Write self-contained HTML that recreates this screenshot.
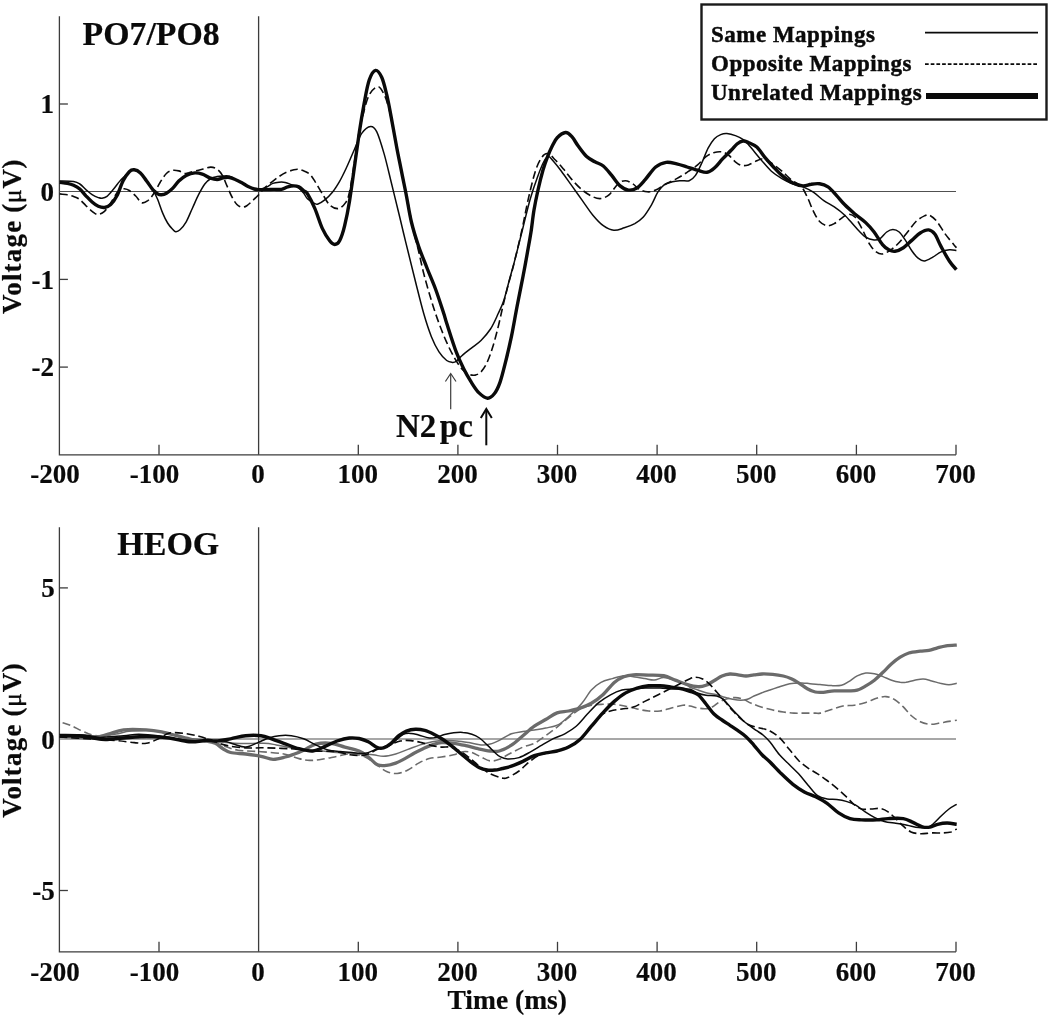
<!DOCTYPE html>
<html lang="en"><head><meta charset="utf-8"><title>ERP waveforms</title>
<style>html,body{margin:0;padding:0;background:#fff}body{width:1050px;height:1019px;overflow:hidden}svg{display:block}text{font-family:"Liberation Serif","DejaVu Serif",serif;font-weight:bold;fill:#0a0a0a;stroke:#0a0a0a;stroke-width:.2px}.lg{stroke-width:.45px}</style></head><body>
<svg width="1050" height="1019" viewBox="0 0 1050 1019">
<rect width="1050" height="1019" fill="#fff"/>
<g stroke="#3c3c3c" stroke-width="1.3" fill="none" shape-rendering="auto">
<path d="M59.4 16.2V454.8H956.0"/>
<path d="M258.6 16.2V454.8"/>
<path d="M59.4 191.55H956.0" stroke="#505050" stroke-width="1.05"/>
<path d="M159.0 454.8v-10"/>
<path d="M358.3 454.8v-10"/>
<path d="M457.9 454.8v-10"/>
<path d="M557.5 454.8v-10"/>
<path d="M657.1 454.8v-10"/>
<path d="M756.7 454.8v-10"/>
<path d="M856.4 454.8v-10"/>
<path d="M956.0 454.8v-10"/>
<path d="M59.4 104.0h8.5"/>
<path d="M59.4 279.4h8.5"/>
<path d="M59.4 367.1h8.5"/>
</g>
<g stroke="#3c3c3c" stroke-width="1.3" fill="none" shape-rendering="auto">
<path d="M59.4 527.2V951.8H956.0"/>
<path d="M258.6 527.2V951.8"/>
<path d="M59.4 739.05H956.0" stroke="#505050" stroke-width="1.05"/>
<path d="M159.0 951.8v-10"/>
<path d="M358.3 951.8v-10"/>
<path d="M457.9 951.8v-10"/>
<path d="M557.5 951.8v-10"/>
<path d="M657.1 951.8v-10"/>
<path d="M756.7 951.8v-10"/>
<path d="M856.4 951.8v-10"/>
<path d="M956.0 951.8v-10"/>
<path d="M59.4 587.9h8.5"/>
<path d="M59.4 890.5h8.5"/>
</g>
<text x="54.9" y="483.2" font-size="27" text-anchor="middle">-200</text>
<text x="154.5" y="483.2" font-size="27" text-anchor="middle">-100</text>
<text x="258.1" y="483.2" font-size="27" text-anchor="middle">0</text>
<text x="357.8" y="483.2" font-size="27" text-anchor="middle">100</text>
<text x="457.4" y="483.2" font-size="27" text-anchor="middle">200</text>
<text x="557.0" y="483.2" font-size="27" text-anchor="middle">300</text>
<text x="656.6" y="483.2" font-size="27" text-anchor="middle">400</text>
<text x="756.2" y="483.2" font-size="27" text-anchor="middle">500</text>
<text x="855.9" y="483.2" font-size="27" text-anchor="middle">600</text>
<text x="955.5" y="483.2" font-size="27" text-anchor="middle">700</text>
<text x="54.9" y="980.8" font-size="27" text-anchor="middle">-200</text>
<text x="154.5" y="980.8" font-size="27" text-anchor="middle">-100</text>
<text x="258.1" y="980.8" font-size="27" text-anchor="middle">0</text>
<text x="357.8" y="980.8" font-size="27" text-anchor="middle">100</text>
<text x="457.4" y="980.8" font-size="27" text-anchor="middle">200</text>
<text x="557.0" y="980.8" font-size="27" text-anchor="middle">300</text>
<text x="656.6" y="980.8" font-size="27" text-anchor="middle">400</text>
<text x="756.2" y="980.8" font-size="27" text-anchor="middle">500</text>
<text x="855.9" y="980.8" font-size="27" text-anchor="middle">600</text>
<text x="955.5" y="980.8" font-size="27" text-anchor="middle">700</text>
<text x="54" y="113.3" font-size="27" text-anchor="end">1</text>
<text x="54" y="201.0" font-size="27" text-anchor="end">0</text>
<text x="54" y="288.7" font-size="27" text-anchor="end">-1</text>
<text x="54" y="376.4" font-size="27" text-anchor="end">-2</text>
<text x="54.8" y="597.2" font-size="27" text-anchor="end">5</text>
<text x="54.8" y="748.5" font-size="27" text-anchor="end">0</text>
<text x="54.8" y="899.8" font-size="27" text-anchor="end">-5</text>
<text x="82.6" y="45" font-size="33.8">PO7/PO8</text>
<text x="117.3" y="555" font-size="34">HEOG</text>
<text y="436.7" font-size="33"><tspan x="396">N2</tspan><tspan x="439.8">pc</tspan></text>
<text x="447.5" y="1009.3" font-size="27.5">Time (ms)</text>
<text transform="translate(20.8,314) rotate(-90)" font-size="27"><tspan x="0" letter-spacing="1.2">Voltage</tspan><tspan x="101.2">(</tspan><tspan x="110.8" font-weight="normal" font-size="26" stroke="#0a0a0a" stroke-width="0.45">μ</tspan><tspan x="125.5">V</tspan><tspan x="145.6">)</tspan></text>
<text transform="translate(20.8,817.8) rotate(-90)" font-size="27"><tspan x="0" letter-spacing="1.2">Voltage</tspan><tspan x="101.2">(</tspan><tspan x="110.8" font-weight="normal" font-size="26" stroke="#0a0a0a" stroke-width="0.45">μ</tspan><tspan x="125.5">V</tspan><tspan x="145.6">)</tspan></text>
<g fill="none" stroke="#3c3c3c" stroke-width="1.2"><path d="M450.7 409.3V374"/><path d="M445.4 381.5L450.7 373.5L456 381.5"/></g>
<g fill="none" stroke="#0a0a0a" stroke-width="2"><path d="M486.3 445.3V409.5"/><path d="M480.8 418L486.3 409L491.8 418"/></g>
<rect x="701.5" y="4.5" width="345" height="115" fill="#fff" stroke="#1a1a1a" stroke-width="2.4"/>
<text class="lg" x="711" y="41.8" font-size="23" letter-spacing="0.5">Same Mappings</text>
<text class="lg" x="711" y="71" font-size="23" letter-spacing="0.5">Opposite Mappings</text>
<text class="lg" x="711" y="100.4" font-size="23" letter-spacing="0.5">Unrelated Mappings</text>
<g stroke="#0a0a0a" fill="none"><path d="M925 32.6H1038" stroke-width="1.6"/><path d="M925 64.1H1038" stroke-width="1.7" stroke-dasharray="3.7 2"/><path d="M926 96H1038" stroke-width="6"/></g>
<g>
<path d="M59.7 181.0C62.0 181.1 70.2 181.1 73.6 181.6C76.9 182.1 77.8 182.7 79.8 184.0C81.8 185.3 83.9 187.8 85.9 189.6C88.0 191.4 90.0 193.3 92.1 194.6C94.2 195.9 96.6 197.0 98.3 197.6C100.0 198.2 100.5 198.5 102.0 198.3C103.5 198.1 105.1 197.9 107.0 196.4C108.9 194.9 111.1 192.1 113.2 189.6C115.3 187.1 117.6 183.8 119.4 181.6C121.2 179.4 122.6 178.2 124.3 176.6C126.0 174.9 127.7 172.8 129.3 171.7C131.0 170.6 132.3 169.6 134.2 169.8C136.0 170.0 138.3 171.0 140.4 172.9C142.5 174.8 144.5 178.2 146.6 181.0C148.7 183.8 151.0 186.5 152.8 189.6C154.7 192.7 156.0 195.6 157.7 199.5C159.3 203.4 161.0 209.2 162.7 213.1C164.3 217.0 165.9 220.3 167.6 223.0C169.2 225.7 171.2 227.8 172.6 229.2C173.9 230.6 174.5 231.6 175.7 231.7C176.9 231.8 178.2 231.5 180.0 229.8C181.8 228.2 184.1 225.4 186.2 221.8C188.3 218.2 190.3 212.7 192.4 208.2C194.5 203.7 196.5 198.6 198.6 194.6C200.7 190.6 202.8 186.7 204.8 184.0C206.9 181.3 208.9 179.7 210.9 178.5C212.9 177.3 215.0 177.0 217.1 176.6C219.2 176.2 221.2 176.1 223.3 176.0C225.4 175.9 227.4 175.6 229.5 176.2C231.6 176.8 233.6 178.6 235.7 179.7C237.8 180.8 239.8 181.7 241.9 182.8C244.0 183.9 246.0 185.5 248.1 186.5C250.2 187.5 252.6 188.5 254.3 189.0C256.0 189.5 256.1 189.9 258.2 189.6C260.2 189.3 264.2 188.1 266.6 187.1C269.0 186.1 270.7 184.2 272.8 183.4C274.9 182.6 276.9 182.4 279.0 182.2C281.1 182.0 283.1 182.0 285.2 182.4C287.3 182.8 289.3 183.9 291.4 184.7C293.5 185.5 295.5 185.7 297.6 187.1C299.7 188.5 302.2 191.4 303.8 193.3C305.4 195.2 305.5 197.0 307.4 198.7C309.2 200.4 313.1 202.7 314.9 203.6C316.7 204.5 316.4 204.6 318.0 204.0C319.6 203.4 322.4 201.8 324.8 199.9C327.2 198.0 329.7 195.6 332.2 192.5C334.7 189.4 337.1 185.6 339.6 181.3C342.1 177.0 344.5 171.8 347.0 166.5C349.5 161.2 352.0 154.8 354.5 149.2C357.0 143.6 359.2 136.9 361.9 133.1C364.6 129.3 368.1 126.6 370.6 126.4C373.1 126.2 374.5 127.2 376.8 131.8C379.1 136.4 381.7 145.4 384.2 154.1C386.7 162.8 389.1 173.7 391.6 183.8C394.1 193.9 397.0 206.0 399.1 214.5C401.2 223.0 402.4 228.4 404.0 235.0C405.6 241.6 406.6 245.6 408.6 253.8C410.6 262.1 413.7 274.5 416.2 284.5C418.7 294.5 421.3 305.1 423.8 313.8C426.3 322.5 428.9 330.4 431.4 336.7C433.9 343.0 436.4 347.9 439.0 351.9C441.6 355.9 444.5 358.8 446.7 360.5C448.9 362.2 450.8 362.2 452.4 362.4C454.0 362.5 454.6 362.5 456.2 361.4C457.8 360.3 459.4 357.9 461.9 355.7C464.4 353.5 468.2 350.6 471.4 348.1C474.6 345.6 477.8 343.7 481.0 340.5C484.2 337.3 487.6 333.4 490.5 329.0C493.4 324.6 495.9 318.6 498.1 313.8C500.3 309.1 501.9 306.2 503.8 300.5C505.7 294.8 507.6 286.5 509.5 279.5C511.4 272.5 513.0 267.2 515.2 258.6C517.4 250.0 520.4 238.0 522.9 228.0C525.4 218.0 527.8 207.3 530.3 198.7C532.8 190.1 535.4 182.6 537.7 176.4C540.0 170.2 542.1 164.8 543.9 161.5C545.7 158.2 547.0 156.7 548.5 156.6C550.0 156.5 550.9 158.4 553.0 160.8C555.1 163.2 558.2 167.0 561.4 171.2C564.5 175.4 568.4 181.0 571.9 185.9C575.4 190.8 578.9 195.7 582.4 200.6C585.9 205.5 589.4 211.0 592.9 215.2C596.4 219.4 599.8 223.2 603.3 225.7C606.8 228.2 610.3 230.0 613.8 230.3C617.3 230.7 620.8 228.9 624.3 227.8C627.8 226.7 631.7 225.3 634.8 223.6C637.9 221.8 640.3 220.4 643.1 217.3C645.9 214.2 649.0 209.0 651.5 204.8C654.0 200.6 655.7 195.5 657.8 192.2C659.9 188.9 661.6 186.7 664.1 184.9C666.6 183.2 669.7 182.4 672.5 181.7C675.3 181.0 678.1 180.9 680.9 180.7C683.7 180.5 686.8 181.6 689.2 180.7C691.6 179.8 693.4 178.4 695.5 175.4C697.6 172.4 699.7 167.4 701.8 162.9C703.9 158.4 706.0 152.2 708.1 148.2C710.2 144.2 712.3 141.1 714.4 138.8C716.5 136.5 718.6 135.5 720.7 134.6C722.8 133.7 724.5 133.3 726.9 133.5C729.3 133.7 732.5 134.5 735.3 135.6C738.1 136.7 741.2 137.9 743.7 139.8C746.2 141.7 747.6 143.8 750.5 147.1C753.4 150.4 757.5 155.7 761.0 159.7C764.5 163.7 767.9 168.0 771.4 171.2C774.9 174.3 778.4 176.5 781.9 178.6C785.4 180.7 788.9 182.4 792.4 183.8C795.9 185.2 799.4 185.5 802.9 186.9C806.4 188.3 809.8 189.9 813.3 192.2C816.8 194.5 820.3 198.1 823.8 200.6C827.3 203.1 830.8 204.5 834.3 206.9C837.8 209.3 841.3 211.9 844.8 215.2C848.3 218.5 851.7 223.1 855.2 226.8C858.7 230.5 862.6 235.0 865.7 237.2C868.9 239.4 871.7 239.8 874.1 240.0C876.5 240.2 878.3 239.6 880.4 238.3C882.5 237.0 884.6 233.5 886.7 232.0C888.8 230.5 890.8 229.5 892.9 229.5C895.0 229.5 897.1 230.2 899.2 232.0C901.3 233.8 903.4 237.3 905.5 240.4C907.6 243.5 909.7 247.8 911.8 250.8C913.9 253.8 916.0 256.5 918.1 258.2C920.2 259.9 922.0 261.1 924.4 260.9C926.8 260.7 930.0 258.6 932.8 257.1C935.6 255.6 938.3 253.1 941.1 251.9C943.9 250.7 947.0 250.1 949.5 249.8C952.0 249.6 955.2 250.3 956.4 250.4" fill="none" stroke="#0a0a0a" stroke-width="1.5" stroke-linejoin="round" stroke-linecap="butt"/>
<path d="M59.7 193.9C61.0 194.1 65.1 194.4 67.4 194.8C69.7 195.2 71.5 195.6 73.6 196.4C75.7 197.2 77.8 197.9 79.8 199.5C81.8 201.1 83.9 203.7 85.9 205.7C88.0 207.7 90.1 209.8 92.1 211.3C94.1 212.8 95.6 214.6 97.7 214.6C99.8 214.6 102.3 213.2 104.5 211.3C106.7 209.4 108.6 206.1 110.7 203.0C112.8 199.9 115.2 195.2 116.9 193.0C118.6 190.8 119.8 190.2 121.0 189.5C122.2 188.8 122.9 188.6 124.3 188.8C125.7 189.0 127.4 189.3 129.3 190.5C131.2 191.7 133.6 194.0 135.7 196.0C137.8 198.0 139.6 201.8 141.6 202.6C143.6 203.4 145.7 202.2 147.8 200.7C149.9 199.1 151.9 196.4 154.0 193.3C156.1 190.2 158.1 185.5 160.2 182.2C162.3 178.9 164.3 175.5 166.4 173.5C168.5 171.5 170.5 170.8 172.6 170.4C174.7 170.0 176.7 170.4 178.8 170.9C180.9 171.4 183.3 173.2 185.0 173.5C186.7 173.8 186.4 173.2 188.7 172.7C191.0 172.1 195.9 170.9 198.6 170.2C201.3 169.5 202.8 169.1 204.8 168.6C206.9 168.1 208.9 167.0 210.9 167.1C212.9 167.2 215.2 167.9 217.1 169.2C219.0 170.5 220.4 172.0 222.1 174.8C223.8 177.6 225.3 182.2 227.0 185.9C228.7 189.6 230.3 193.9 232.0 197.0C233.7 200.1 235.2 202.8 236.9 204.5C238.6 206.2 240.2 207.0 241.9 207.2C243.6 207.4 245.2 206.7 246.8 205.7C248.5 204.7 249.9 203.2 251.8 201.4C253.7 199.7 256.1 197.4 258.2 195.2C260.3 193.0 262.0 190.6 264.2 188.4C266.4 186.2 269.1 184.2 271.6 182.2C274.1 180.2 276.5 178.2 279.0 176.6C281.5 174.9 283.9 173.4 286.4 172.3C288.9 171.2 291.8 170.3 293.9 169.8C296.0 169.3 296.9 169.1 298.8 169.4C300.7 169.7 303.1 170.7 305.0 171.5C306.9 172.3 308.4 172.9 310.0 174.5C311.6 176.1 312.8 178.1 314.9 181.3C316.9 184.5 319.8 189.8 322.3 193.7C324.8 197.6 327.0 202.4 329.7 204.9C332.4 207.4 335.7 209.0 338.4 208.6C341.1 208.2 343.9 205.2 345.8 202.4C347.7 199.6 348.1 198.2 349.5 192.0C350.9 185.8 352.5 174.5 354.0 165.0C355.5 155.5 357.0 143.4 358.5 135.0C360.0 126.6 361.3 121.2 363.1 114.5C364.9 107.8 366.8 99.3 369.3 94.7C371.8 90.1 375.5 86.7 378.0 86.7C380.5 86.7 382.3 90.9 384.2 94.7C386.1 98.5 387.7 104.0 389.2 109.5C390.7 115.0 391.5 120.8 393.0 128.0C394.5 135.2 396.3 144.7 398.0 153.0C399.7 161.3 401.3 169.7 403.0 178.0C404.7 186.3 406.3 194.3 408.0 203.0C409.7 211.7 411.6 222.3 413.3 230.0C415.0 237.7 416.4 241.7 418.1 249.0C419.9 256.3 421.6 265.2 423.8 273.8C426.0 282.4 428.9 292.2 431.4 300.5C433.9 308.8 436.4 316.3 439.0 323.3C441.6 330.3 444.1 336.7 446.7 342.4C449.2 348.1 451.8 353.2 454.3 357.6C456.8 362.0 459.4 366.2 461.9 369.0C464.4 371.8 467.3 373.4 469.5 374.4C471.7 375.4 473.3 375.5 475.2 375.1C477.1 374.7 479.1 373.9 481.0 371.9C482.9 369.9 484.8 367.3 486.7 363.3C488.6 359.3 490.5 354.1 492.4 348.1C494.3 342.1 496.4 334.1 498.1 327.1C499.9 320.1 501.3 312.9 502.9 306.2C504.5 299.5 505.9 293.8 507.6 287.1C509.3 280.4 510.9 275.7 513.3 266.2C515.7 256.7 519.5 240.8 521.9 230.0C524.3 219.2 525.6 211.0 527.8 201.2C530.0 191.4 533.0 178.6 535.3 171.4C537.6 164.2 539.5 160.8 541.5 157.8C543.5 154.8 545.3 153.3 547.6 153.6C549.9 153.9 552.5 157.1 555.1 159.7C557.8 162.3 560.7 165.8 563.5 169.1C566.3 172.4 568.8 176.1 571.9 179.6C575.0 183.1 578.9 187.2 582.4 190.1C585.9 193.0 589.8 195.4 592.9 196.8C596.0 198.2 598.4 198.9 601.2 198.5C604.0 198.1 606.8 196.8 609.6 194.3C612.4 191.9 615.4 186.1 618.0 183.8C620.6 181.5 622.8 180.7 625.3 180.7C627.8 180.7 630.4 182.4 632.7 183.8C635.0 185.2 636.5 187.7 638.9 189.0C641.3 190.3 644.5 191.6 647.3 191.8C650.1 192.0 652.6 191.4 655.7 190.1C658.9 188.8 662.7 185.7 666.2 183.8C669.7 181.9 673.2 180.5 676.7 178.6C680.2 176.7 683.6 174.6 687.1 172.3C690.6 170.0 694.5 167.5 697.6 164.9C700.8 162.3 703.2 158.7 706.0 156.6C708.8 154.5 711.6 153.2 714.4 152.4C717.2 151.6 720.4 151.5 722.8 152.0C725.2 152.5 726.9 153.9 729.0 155.5C731.1 157.1 733.2 160.2 735.3 161.8C737.4 163.5 739.4 164.9 741.6 165.4C743.8 165.9 745.9 165.7 748.4 164.9C750.9 164.1 754.5 161.8 756.8 160.8C759.1 159.8 760.3 159.0 762.0 159.0C763.7 159.0 765.6 160.2 767.2 160.8C768.8 161.5 769.0 161.2 771.4 162.9C773.8 164.6 778.4 168.2 781.9 171.2C785.4 174.2 789.2 178.2 792.4 180.7C795.5 183.1 798.4 183.3 800.8 185.9C803.2 188.5 804.9 192.2 807.0 196.4C809.1 200.6 811.2 206.8 813.3 211.0C815.4 215.2 817.3 219.1 819.6 221.5C821.9 223.9 824.5 225.3 826.9 225.7C829.3 226.0 831.7 225.0 834.3 223.6C836.9 222.2 840.3 218.9 842.7 217.3C845.1 215.7 846.8 214.2 848.9 214.2C851.0 214.2 853.1 215.0 855.2 217.3C857.3 219.6 859.0 223.2 861.5 227.8C864.0 232.4 867.4 240.6 869.9 244.6C872.4 248.6 874.1 250.3 876.2 251.9C878.3 253.5 880.0 254.3 882.5 254.0C885.0 253.7 888.1 251.7 890.9 249.8C893.7 247.9 896.4 245.5 899.2 242.5C902.0 239.5 904.8 235.5 907.6 232.0C910.4 228.5 913.2 224.2 916.0 221.5C918.8 218.8 922.1 217.0 924.4 215.9C926.7 214.8 927.5 214.3 929.6 215.2C931.7 216.1 934.3 218.3 936.9 221.5C939.5 224.7 942.5 230.2 945.3 234.1C948.1 237.9 951.9 242.3 953.7 244.6C955.6 246.9 956.0 247.2 956.4 247.7" fill="none" stroke="#0a0a0a" stroke-width="1.6" stroke-linejoin="round" stroke-linecap="butt" stroke-dasharray="8 3.8"/>
<path d="M59.7 182.4C61.0 182.6 65.1 182.9 67.4 183.4C69.7 183.9 71.5 184.4 73.6 185.3C75.7 186.2 77.8 187.2 79.8 189.0C81.8 190.8 83.9 193.6 85.9 195.8C88.0 198.0 90.0 200.2 92.1 202.0C94.2 203.8 96.2 205.4 98.3 206.3C100.4 207.2 102.4 207.8 104.5 207.5C106.6 207.2 108.6 206.4 110.7 204.5C112.8 202.6 114.9 199.7 116.9 195.8C119.0 191.9 120.9 185.0 123.0 181.0C125.1 177.0 127.4 173.6 129.3 171.7C131.2 169.8 132.3 169.6 134.2 169.8C136.0 170.0 138.3 171.0 140.4 172.9C142.5 174.8 144.5 178.2 146.6 181.0C148.7 183.8 151.0 187.4 152.8 189.6C154.7 191.8 156.3 193.0 157.7 193.9C159.1 194.8 159.9 194.9 161.4 194.8C162.9 194.7 164.5 194.4 166.4 193.3C168.3 192.2 170.5 190.5 172.6 188.4C174.7 186.3 176.5 183.2 178.8 181.0C181.1 178.8 183.5 176.8 186.2 175.4C188.9 174.1 192.2 173.1 194.9 172.9C197.6 172.7 199.8 173.3 202.3 174.1C204.8 174.9 207.2 176.9 209.7 177.8C212.2 178.7 214.8 179.5 217.1 179.5C219.4 179.5 221.2 178.1 223.3 177.8C225.4 177.5 227.4 177.2 229.5 177.5C231.6 177.8 233.6 178.8 235.7 179.7C237.8 180.6 239.8 181.7 241.9 182.8C244.0 183.9 246.0 185.5 248.1 186.5C250.2 187.5 252.6 188.5 254.3 189.0C256.0 189.5 256.1 189.5 258.2 189.6C260.2 189.7 264.0 189.6 266.6 189.6C269.2 189.6 271.6 189.4 274.1 189.4C276.6 189.4 279.2 189.8 281.5 189.4C283.8 189.0 285.6 187.5 287.7 186.9C289.8 186.3 292.0 185.9 293.9 185.9C295.8 185.9 297.1 186.1 298.8 186.9C300.5 187.7 302.4 189.7 303.8 190.8C305.2 191.9 305.5 190.7 307.4 193.7C309.2 196.7 312.4 202.8 314.9 208.6C317.4 214.4 319.8 223.0 322.3 228.4C324.8 233.8 327.6 238.1 329.7 240.8C331.8 243.5 333.0 244.5 334.7 244.5C336.4 244.5 338.0 243.9 339.6 240.8C341.2 237.7 343.0 232.5 344.6 225.9C346.2 219.3 347.9 211.1 349.5 201.2C351.1 191.3 352.9 178.1 354.5 166.5C356.1 154.9 357.8 142.5 359.4 131.8C361.0 121.1 362.8 110.8 364.4 102.1C366.0 93.4 367.4 85.1 369.3 79.8C371.2 74.5 373.4 70.8 375.5 70.4C377.6 70.0 379.8 73.2 381.7 77.3C383.6 81.3 385.0 87.7 386.7 94.7C388.4 101.7 390.0 110.7 391.6 119.4C393.2 128.1 395.0 138.0 396.6 146.7C398.2 155.4 399.9 163.2 401.5 171.4C403.1 179.7 404.9 187.8 406.5 196.2C408.1 204.6 409.4 213.7 411.4 222.0C413.4 230.3 415.9 238.3 418.5 246.0C421.1 253.7 424.2 260.8 427.0 268.0C429.8 275.2 432.7 281.5 435.5 289.0C438.3 296.5 441.7 307.3 443.6 313.0C445.5 318.7 444.6 316.8 446.7 323.3C448.8 329.8 453.3 344.3 456.2 351.9C459.1 359.5 461.3 363.9 463.8 369.0C466.3 374.1 468.9 378.4 471.4 382.4C473.9 386.4 476.3 390.3 479.0 392.9C481.7 395.5 485.1 398.0 487.6 398.2C490.2 398.4 492.2 396.4 494.3 393.8C496.4 391.2 498.1 387.8 500.0 382.4C501.9 377.0 503.8 369.0 505.7 361.4C507.6 353.8 509.5 345.9 511.4 336.7C513.3 327.5 515.2 316.1 517.1 306.2C519.0 296.2 521.0 286.7 522.9 277.0C524.8 267.3 526.9 255.5 528.2 248.0C529.6 240.5 530.0 238.3 531.0 232.0C532.0 225.7 532.8 217.0 534.0 210.0C535.2 203.0 536.5 196.7 538.0 190.0C539.5 183.3 541.4 175.6 543.0 170.0C544.6 164.4 546.1 160.5 547.6 156.6C549.1 152.7 550.4 149.7 552.0 146.5C553.6 143.3 554.9 140.0 557.2 137.7C559.5 135.4 563.2 132.7 565.6 132.5C568.0 132.3 569.8 134.4 571.9 136.7C574.0 139.0 575.8 142.8 578.2 146.1C580.7 149.4 583.8 154.0 586.6 156.6C589.4 159.2 592.1 160.2 594.9 161.8C597.7 163.4 600.5 163.7 603.3 166.0C606.1 168.3 608.9 172.1 611.7 175.4C614.5 178.7 617.3 183.5 620.1 185.9C622.9 188.3 625.7 189.8 628.5 190.1C631.3 190.4 634.1 189.8 636.9 188.0C639.7 186.2 642.1 183.1 645.2 179.6C648.3 176.1 652.2 169.9 655.7 167.0C659.2 164.1 662.7 162.9 666.2 162.4C669.7 161.9 673.2 163.1 676.7 163.9C680.2 164.7 683.6 165.9 687.1 167.0C690.6 168.1 694.3 169.3 697.6 170.2C700.9 171.1 704.2 172.7 707.0 172.3C709.8 172.0 711.8 170.4 714.4 168.1C717.0 165.8 720.0 161.7 722.8 158.7C725.6 155.7 728.7 152.8 731.1 150.3C733.5 147.9 735.0 145.6 737.0 144.0C739.0 142.4 741.1 141.2 743.0 141.0C744.9 140.8 746.1 141.5 748.4 142.5C750.7 143.5 754.0 144.6 756.8 147.1C759.6 149.6 762.3 154.3 765.1 157.6C767.9 160.9 770.7 164.0 773.5 167.0C776.3 170.0 778.8 172.8 781.9 175.4C785.0 178.0 788.9 181.1 792.4 182.8C795.9 184.6 799.8 185.7 802.9 185.9C806.0 186.1 808.4 184.5 811.2 184.2C814.0 183.8 816.8 183.4 819.6 183.8C822.4 184.2 825.2 185.0 828.0 186.9C830.8 188.8 833.6 192.3 836.4 195.3C839.2 198.3 841.7 201.7 844.8 204.8C847.9 208.0 851.7 211.2 855.2 214.2C858.7 217.2 862.6 219.6 865.7 222.6C868.9 225.6 871.3 228.3 874.1 232.0C876.9 235.7 880.0 241.6 882.5 244.6C885.0 247.6 886.7 248.7 888.8 249.8C890.9 250.9 892.6 251.7 895.0 251.3C897.4 251.0 900.6 249.5 903.4 247.7C906.2 245.9 909.0 242.8 911.8 240.4C914.6 238.0 917.4 234.8 920.2 233.0C923.0 231.2 926.2 229.7 928.6 229.9C931.0 230.1 932.7 231.3 934.8 234.1C936.9 236.9 938.6 242.2 941.1 246.7C943.6 251.2 947.0 257.5 949.5 261.3C952.0 265.1 955.2 268.3 956.4 269.7" fill="none" stroke="#0a0a0a" stroke-width="3.4" stroke-linejoin="round" stroke-linecap="butt"/>
</g><g>
<path d="M59.5 735.0C64.6 735.2 82.4 735.9 90.0 736.0C97.6 736.1 100.7 735.8 105.0 735.5C109.3 735.2 111.6 734.7 116.0 734.0C120.4 733.3 124.9 731.6 131.2 731.1C137.5 730.6 147.7 730.3 154.0 730.8C160.3 731.3 164.1 733.0 169.3 734.2C174.5 735.4 179.9 737.0 185.0 738.0C190.1 739.0 194.2 739.8 200.0 740.5C205.8 741.2 213.3 741.5 220.0 742.0C226.7 742.5 232.7 743.3 240.0 743.5C247.3 743.7 258.0 743.1 264.0 743.3C270.0 743.5 271.6 744.1 276.2 744.9C280.8 745.7 286.3 747.0 291.4 747.9C296.5 748.8 301.6 749.7 306.7 750.2C311.8 750.7 316.8 750.6 321.9 751.0C327.0 751.4 331.6 752.1 337.1 752.5C342.6 752.9 349.0 753.1 355.0 753.5C361.0 753.9 368.1 754.3 372.9 754.8C377.6 755.3 379.7 756.4 383.5 756.3C387.3 756.2 391.6 755.1 395.7 754.0C399.8 752.9 403.8 750.9 407.9 749.4C412.0 747.9 416.0 746.2 420.1 744.9C424.2 743.6 428.2 742.6 432.3 741.8C436.4 741.0 440.4 740.4 444.5 740.3C448.6 740.2 452.6 740.6 456.7 741.0C460.8 741.4 464.8 742.0 468.9 742.6C472.9 743.2 477.4 744.6 481.0 744.9C484.6 745.1 487.1 744.9 490.2 744.1C493.2 743.3 495.8 742.0 499.3 740.3C502.8 738.6 507.5 735.3 511.4 733.8C515.3 732.3 519.1 732.1 522.9 731.5C526.7 730.9 530.5 730.6 534.3 730.0C538.1 729.4 541.6 729.1 545.7 728.1C549.8 727.1 554.9 726.5 559.0 724.3C563.1 722.1 566.7 718.3 570.5 714.8C574.3 711.3 578.4 707.4 581.9 703.3C585.4 699.2 588.2 693.5 591.4 690.0C594.6 686.5 597.5 684.3 601.0 682.4C604.5 680.5 608.6 679.7 612.4 678.6C616.2 677.5 620.3 676.0 623.8 675.7C627.3 675.4 629.8 676.2 633.3 676.7C636.8 677.2 641.3 678.0 644.8 678.6C648.3 679.2 651.1 680.3 654.3 680.1C657.5 679.9 660.3 677.5 663.8 677.6C667.3 677.7 671.5 679.4 675.2 680.5C678.9 681.6 683.5 683.4 686.0 684.5C688.5 685.6 688.0 686.4 690.0 687.3C692.0 688.2 695.3 689.1 698.0 690.0C700.7 690.9 702.9 691.9 706.0 692.7C709.1 693.5 713.6 693.9 716.7 694.7C719.8 695.5 722.0 696.5 724.7 697.3C727.4 698.1 730.0 698.8 732.7 699.3C735.4 699.8 738.3 700.3 740.7 700.3C743.1 700.3 745.1 700.0 747.3 699.3C749.5 698.6 751.5 697.1 754.0 696.0C756.5 694.9 759.3 693.7 762.0 692.7C764.7 691.7 767.3 690.9 770.0 690.0C772.7 689.1 775.3 688.2 778.0 687.3C780.7 686.4 783.3 685.4 786.0 684.7C788.7 684.0 791.3 683.6 794.0 683.3C796.7 683.0 799.3 682.8 802.0 682.9C804.7 683.0 807.0 683.4 810.0 683.7C813.0 684.0 816.4 684.2 820.0 684.5C823.6 684.8 827.9 685.5 831.5 685.6C835.1 685.7 838.6 685.9 841.5 685.2C844.4 684.5 846.1 683.2 848.7 681.6C851.3 680.0 854.4 677.3 857.2 675.9C860.1 674.5 862.9 673.4 865.8 673.0C868.7 672.6 871.5 673.1 874.4 673.7C877.3 674.3 880.1 675.5 883.0 676.6C885.9 677.7 888.7 679.2 891.6 680.2C894.5 681.2 897.8 681.9 900.2 682.3C902.6 682.6 903.6 682.6 906.0 682.3C908.4 681.9 911.7 680.8 914.6 680.2C917.5 679.7 920.4 678.9 923.2 679.0C926.1 679.1 928.9 680.2 931.7 680.9C934.6 681.6 937.4 682.6 940.3 683.3C943.2 683.9 946.1 684.8 948.9 684.8C951.6 684.8 955.5 683.5 956.8 683.3" fill="none" stroke="#6b6b6b" stroke-width="1.5" stroke-linejoin="round" stroke-linecap="butt"/>
<path d="M62.6 722.8C64.2 723.3 68.7 724.6 72.0 726.0C75.3 727.4 78.6 729.5 82.4 731.1C86.2 732.7 89.6 734.5 95.0 735.5C100.4 736.5 107.5 736.7 115.0 737.0C122.5 737.3 131.7 737.4 140.0 737.5C148.3 737.6 156.7 737.2 165.0 737.5C173.3 737.8 182.5 738.4 190.0 739.0C197.5 739.6 204.5 739.9 210.0 741.0C215.5 742.1 218.2 744.1 222.9 745.6C227.6 747.1 231.8 749.2 238.1 750.2C244.4 751.2 253.4 751.1 261.0 751.7C268.6 752.3 277.5 752.9 283.8 754.0C290.1 755.1 294.7 757.5 299.0 758.6C303.3 759.7 305.9 760.3 309.7 760.4C313.5 760.5 317.3 760.0 321.9 759.3C326.5 758.6 332.4 757.2 337.1 756.3C341.8 755.4 345.3 753.9 350.0 754.0C354.7 754.1 360.6 755.1 365.2 757.0C369.8 758.9 373.8 763.0 377.4 765.4C381.0 767.8 383.3 770.1 386.6 771.5C389.9 772.9 393.6 773.8 397.2 773.5C400.8 773.2 404.3 771.7 407.9 770.0C411.5 768.3 415.1 765.0 418.6 763.1C422.2 761.2 425.4 759.6 429.2 758.6C433.0 757.6 437.3 757.6 441.4 757.0C445.5 756.4 450.0 755.7 453.6 754.8C457.2 753.9 459.8 752.1 462.8 751.7C465.9 751.3 468.9 751.6 471.9 752.5C474.9 753.4 477.9 755.6 481.0 757.0C484.1 758.4 487.1 760.5 490.2 760.9C493.2 761.3 496.1 760.5 499.3 759.3C502.5 758.1 505.6 755.8 509.5 753.8C513.4 751.8 518.8 748.9 522.9 747.1C527.0 745.4 530.5 745.2 534.3 743.3C538.1 741.4 541.9 738.4 545.7 735.7C549.5 733.0 553.3 730.1 557.1 727.1C560.9 724.1 564.8 720.6 568.6 717.6C572.4 714.6 576.2 711.1 580.0 709.0C583.8 706.9 587.6 706.0 591.4 705.2C595.2 704.4 599.1 704.4 602.9 704.3C606.7 704.1 610.5 704.0 614.3 704.3C618.1 704.6 621.9 705.4 625.7 706.2C629.5 707.0 633.3 708.2 637.1 709.0C640.9 709.8 644.8 710.7 648.6 711.0C652.4 711.3 656.2 711.5 660.0 711.0C663.8 710.5 667.6 709.1 671.4 708.1C675.2 707.1 679.8 705.6 682.9 705.2C686.0 704.9 687.5 705.5 690.0 706.0C692.5 706.5 695.3 707.5 698.0 708.0C700.7 708.5 703.5 708.9 706.0 708.7C708.5 708.5 710.5 707.8 712.7 706.7C714.9 705.6 716.9 703.3 719.3 702.0C721.7 700.7 724.6 699.4 727.3 698.7C730.0 698.0 732.6 697.5 735.3 697.6C738.0 697.7 740.6 698.3 743.3 699.3C746.0 700.2 748.2 702.0 751.3 703.3C754.4 704.6 758.4 706.2 762.0 707.3C765.6 708.4 769.2 709.2 772.7 710.0C776.2 710.8 779.8 711.5 783.3 712.0C786.8 712.5 790.4 712.9 794.0 713.1C797.6 713.3 801.2 713.1 804.7 713.1C808.2 713.1 812.8 713.1 815.3 713.1C817.8 713.1 817.3 713.7 820.0 713.1C822.7 712.5 827.7 710.7 831.5 709.5C835.3 708.3 839.1 706.7 842.9 706.0C846.7 705.3 850.6 705.8 854.4 705.2C858.2 704.6 862.0 703.6 865.8 702.4C869.6 701.2 873.9 699.1 877.3 698.1C880.6 697.1 883.0 696.4 885.9 696.6C888.8 696.8 891.6 697.8 894.5 699.5C897.4 701.2 900.2 704.0 903.1 706.7C906.0 709.5 908.8 713.5 911.7 716.0C914.6 718.5 917.2 720.3 920.3 721.7C923.4 723.1 927.0 724.1 930.3 724.3C933.6 724.5 937.2 723.4 940.3 722.9C943.4 722.4 946.1 721.8 948.9 721.4C951.6 721.0 955.5 720.5 956.8 720.3" fill="none" stroke="#6b6b6b" stroke-width="1.6" stroke-linejoin="round" stroke-linecap="butt" stroke-dasharray="8 3.8"/>
<path d="M59.5 736.0C62.9 736.2 74.1 737.2 80.0 737.5C85.9 737.8 90.3 738.0 95.0 737.5C99.7 737.0 103.5 735.5 108.3 734.2C113.1 732.9 117.2 730.6 123.6 729.9C129.9 729.2 140.1 729.6 146.4 729.9C152.8 730.2 156.6 730.9 161.7 731.9C166.8 732.9 171.8 734.4 176.9 735.7C182.0 737.0 187.4 738.6 192.1 739.5C196.8 740.4 201.2 740.4 205.0 741.0C208.8 741.6 212.2 742.0 215.2 743.3C218.2 744.6 220.3 747.2 222.9 748.7C225.5 750.2 226.7 751.6 230.5 752.5C234.3 753.4 240.6 753.4 245.7 754.0C250.8 754.6 256.4 755.4 261.0 756.3C265.6 757.2 269.1 759.2 273.1 759.3C277.2 759.4 281.7 757.9 285.3 757.0C288.9 756.1 291.4 755.1 294.5 754.0C297.6 752.9 300.1 751.9 303.6 750.2C307.2 748.6 311.2 745.2 315.8 744.1C320.4 743.0 326.2 742.8 331.0 743.3C335.8 743.8 340.1 745.8 344.8 747.1C349.5 748.4 355.2 749.4 359.1 751.0C363.0 752.6 365.2 754.7 368.3 757.0C371.4 759.3 374.3 763.3 377.4 764.7C380.4 766.1 383.6 765.7 386.6 765.4C389.7 765.1 392.6 764.2 395.7 763.1C398.8 762.0 401.8 760.2 404.9 758.6C407.9 757.0 411.0 754.9 414.0 753.2C417.0 751.6 420.1 750.1 423.1 748.7C426.2 747.3 429.2 745.9 432.3 744.9C435.4 743.9 437.8 742.9 441.4 742.6C444.9 742.3 449.5 742.8 453.6 743.3C457.7 743.8 461.7 744.7 465.8 745.6C469.9 746.5 473.9 747.8 478.0 748.7C482.1 749.6 486.6 750.6 490.2 751.0C493.8 751.4 495.8 752.0 499.3 751.0C502.8 750.0 507.5 747.8 511.4 745.2C515.3 742.7 519.1 738.9 522.9 735.7C526.7 732.5 530.5 728.9 534.3 726.2C538.1 723.5 541.9 721.7 545.7 719.5C549.5 717.3 553.3 714.3 557.1 712.9C560.9 711.5 564.8 711.8 568.6 711.0C572.4 710.2 576.2 709.4 580.0 708.1C583.8 706.8 587.6 705.5 591.4 703.3C595.2 701.1 599.1 698.3 602.9 694.8C606.7 691.3 610.8 685.4 614.3 682.4C617.8 679.4 620.6 678.0 623.8 676.7C627.0 675.4 629.2 675.1 633.3 674.8C637.4 674.5 643.5 675.0 648.6 675.1C653.7 675.2 659.4 674.9 663.8 675.7C668.2 676.5 671.4 678.7 675.2 680.1C679.0 681.5 682.9 683.2 686.7 684.3C690.5 685.4 694.8 686.5 698.0 686.7C701.2 686.9 703.3 686.3 706.0 685.3C708.7 684.3 711.3 682.2 714.0 680.7C716.7 679.2 719.3 677.1 722.0 676.0C724.7 674.9 727.3 674.2 730.0 674.0C732.7 673.8 735.3 674.6 738.0 674.9C740.7 675.2 743.3 676.0 746.0 676.0C748.7 676.0 751.3 675.2 754.0 674.9C756.7 674.6 758.9 674.1 762.0 674.0C765.1 673.9 769.2 674.1 772.7 674.4C776.2 674.7 780.2 675.3 783.3 676.0C786.4 676.7 788.6 677.5 791.3 678.7C794.0 679.9 796.6 681.6 799.3 683.3C802.0 685.0 804.6 687.2 807.3 688.7C810.0 690.2 812.6 691.4 815.3 692.0C818.0 692.6 820.1 692.5 823.3 692.3C826.5 692.1 830.1 691.1 834.3 690.9C838.5 690.7 844.9 691.0 848.7 690.9C852.5 690.8 854.4 691.0 857.2 690.2C860.1 689.4 862.9 687.6 865.8 685.9C868.7 684.2 871.5 682.5 874.4 680.2C877.3 677.9 880.1 675.0 883.0 672.3C885.9 669.5 888.7 666.2 891.6 663.7C894.5 661.2 897.3 659.0 900.2 657.2C903.1 655.4 905.4 654.0 908.8 653.0C912.1 652.0 916.9 651.6 920.3 651.2C923.6 650.8 926.0 651.0 928.9 650.4C931.8 649.8 934.6 648.7 937.5 647.9C940.4 647.1 942.9 646.3 946.1 645.8C949.3 645.3 955.0 645.2 956.8 645.1" fill="none" stroke="#6b6b6b" stroke-width="3.3" stroke-linejoin="round" stroke-linecap="butt"/>
<path d="M59.5 734.5C63.8 734.6 78.2 734.5 85.0 735.0C91.8 735.5 93.6 737.4 100.0 737.5C106.4 737.6 117.1 736.2 123.6 735.7C130.1 735.2 132.7 734.2 138.8 734.2C144.9 734.2 153.1 735.1 160.0 736.0C166.9 736.9 173.3 738.7 180.0 739.5C186.7 740.3 192.8 740.8 200.0 741.0C207.2 741.2 217.3 740.5 222.9 741.0C228.5 741.5 229.7 743.1 233.5 744.1C237.3 745.1 241.6 747.4 245.7 747.1C249.8 746.9 254.1 744.1 257.9 742.6C261.7 741.1 265.1 739.1 268.6 738.0C272.2 736.9 275.4 736.1 279.2 735.7C283.0 735.3 287.3 735.2 291.4 735.7C295.5 736.2 299.5 737.3 303.6 738.8C307.7 740.3 311.7 743.0 315.8 744.9C319.9 746.8 324.0 748.9 328.0 750.0C332.0 751.1 336.0 751.1 340.0 751.5C344.0 751.9 347.8 752.2 352.0 752.5C356.2 752.8 360.8 753.9 365.0 753.3C369.2 752.7 372.9 750.3 377.0 749.0C381.1 747.7 386.5 747.1 389.6 745.6C392.7 744.1 393.4 742.2 395.7 740.3C398.0 738.4 400.8 735.4 403.3 734.2C405.9 733.1 408.4 733.3 411.0 733.4C413.6 733.5 415.6 734.2 418.6 735.0C421.6 735.8 426.1 737.6 429.2 738.0C432.2 738.4 434.3 737.8 436.9 737.2C439.4 736.6 441.7 735.2 444.5 734.5C447.3 733.8 450.6 733.1 453.6 732.7C456.7 732.4 459.8 732.1 462.8 732.4C465.9 732.6 469.1 733.3 471.9 734.2C474.7 735.1 477.0 736.2 479.5 738.0C482.0 739.8 484.6 742.5 487.1 744.9C489.7 747.3 492.7 750.5 494.8 752.5C496.9 754.5 497.9 755.6 500.0 756.7C502.1 757.8 504.4 758.9 507.6 759.0C510.8 759.1 515.2 758.8 519.0 757.6C522.8 756.4 526.7 754.0 530.5 751.9C534.3 749.8 538.1 747.4 541.9 745.2C545.7 743.0 549.5 740.5 553.3 738.6C557.1 736.7 561.0 735.9 564.8 733.8C568.6 731.7 572.4 729.5 576.2 726.2C580.0 722.9 583.8 717.8 587.6 713.8C591.4 709.8 595.2 705.6 599.0 702.4C602.8 699.2 606.7 696.9 610.5 694.8C614.3 692.7 618.1 691.0 621.9 690.0C625.7 689.0 629.5 689.3 633.3 689.0C637.1 688.7 640.3 688.3 644.8 688.1C649.2 687.9 655.6 687.9 660.0 688.0C664.4 688.1 667.7 688.8 671.4 689.0C675.1 689.2 678.9 689.0 682.0 689.0C685.1 689.0 687.3 688.6 690.0 689.3C692.7 690.0 695.3 692.3 698.0 693.3C700.7 694.3 702.9 694.8 706.0 695.3C709.1 695.8 713.8 695.3 716.7 696.0C719.6 696.7 721.1 697.5 723.3 699.3C725.5 701.1 727.8 704.2 730.0 706.7C732.2 709.2 734.5 711.7 736.7 714.0C738.9 716.3 741.1 718.7 743.3 720.7C745.5 722.7 747.8 724.3 750.0 726.0C752.2 727.7 754.5 729.2 756.7 730.7C758.9 732.2 761.1 733.4 763.3 735.3C765.5 737.2 767.3 738.8 770.0 742.0C772.7 745.2 776.3 751.1 779.5 754.8C782.7 758.5 785.8 761.1 789.0 764.3C792.2 767.5 795.4 770.3 798.6 773.8C801.8 777.3 804.9 781.6 808.1 785.2C811.3 788.9 814.4 793.4 817.6 795.7C820.8 798.0 823.9 798.4 827.1 799.0C830.3 799.6 833.5 799.1 836.7 799.5C839.9 799.9 843.0 800.4 846.2 801.4C849.4 802.4 852.5 803.5 855.7 805.2C858.9 807.0 862.0 809.8 865.2 811.9C868.4 814.0 871.6 816.0 874.8 817.6C878.0 819.2 880.8 820.5 884.3 821.4C887.8 822.3 891.9 822.7 895.7 823.3C899.5 823.9 903.3 824.5 907.1 825.2C910.9 825.9 915.1 827.2 918.6 827.5C922.1 827.8 925.6 827.8 928.1 827.1C930.6 826.4 931.6 825.2 933.8 823.3C936.0 821.4 938.9 818.1 941.4 815.7C943.9 813.3 946.5 810.9 949.0 809.0C951.5 807.1 955.4 805.1 956.7 804.3" fill="none" stroke="#0a0a0a" stroke-width="1.5" stroke-linejoin="round" stroke-linecap="butt"/>
<path d="M59.5 737.0C64.6 737.3 80.8 738.4 90.0 739.0C99.2 739.6 107.6 739.9 115.0 740.5C122.4 741.1 129.0 742.1 134.2 742.6C139.4 743.1 142.4 743.9 146.4 743.3C150.4 742.7 154.2 740.7 158.0 739.0C161.8 737.3 164.9 734.0 169.3 733.1C173.7 732.2 179.4 732.8 184.5 733.4C189.6 734.0 195.1 735.2 199.8 736.5C204.6 737.8 208.4 739.5 213.0 741.0C217.6 742.5 222.0 744.5 227.4 745.6C232.8 746.8 240.1 747.5 245.7 747.9C251.3 748.3 255.9 747.8 261.0 747.8C266.1 747.8 271.2 748.0 276.2 748.2C281.2 748.4 287.2 748.6 291.0 748.8C294.8 749.0 295.4 749.1 299.0 749.5C302.6 749.9 308.5 750.7 312.8 751.0C317.1 751.3 320.9 751.2 325.0 751.3C329.1 751.4 332.9 751.1 337.1 751.7C341.3 752.3 345.8 754.2 350.0 754.8C354.2 755.4 358.9 755.8 362.2 755.5C365.5 755.2 367.3 754.2 369.8 753.2C372.3 752.2 374.0 750.8 377.0 749.5C380.0 748.2 384.1 747.0 388.0 745.6C391.9 744.2 396.5 741.8 400.3 741.0C404.1 740.2 407.4 740.3 411.0 740.6C414.6 740.9 418.1 741.8 421.6 742.6C425.2 743.4 429.0 744.9 432.3 745.6C435.6 746.4 438.3 746.9 441.4 747.1C444.4 747.4 447.6 746.5 450.6 747.1C453.7 747.8 456.6 749.3 459.7 751.0C462.8 752.7 465.7 755.0 469.0 757.5C472.3 760.0 476.0 763.5 479.5 766.2C483.0 768.9 486.4 771.8 490.2 773.8C494.0 775.8 499.5 777.5 502.4 778.1C505.3 778.7 504.8 778.8 507.6 777.6C510.4 776.4 515.5 773.5 519.0 771.0C522.5 768.5 525.4 764.9 528.6 762.4C531.8 759.9 534.9 757.4 538.1 755.7C541.3 754.1 544.4 753.5 548.0 752.5C551.6 751.5 556.3 751.1 560.0 750.0C563.7 748.9 566.7 747.8 570.0 746.0C573.3 744.2 576.4 742.8 580.0 739.5C583.6 736.2 587.9 730.3 591.4 726.2C594.9 722.1 597.8 717.5 601.0 715.0C604.2 712.5 607.0 712.0 610.5 711.0C614.0 710.0 618.1 709.6 621.9 709.0C625.7 708.4 629.5 708.4 633.3 707.1C637.1 705.8 641.0 703.3 644.8 701.4C648.6 699.5 652.4 697.6 656.2 695.7C660.0 693.8 663.8 691.9 667.6 690.0C671.4 688.1 675.3 686.2 679.0 684.3C682.7 682.4 687.3 679.9 690.0 678.7C692.7 677.5 693.3 677.3 695.3 677.3C697.3 677.3 699.8 677.7 702.0 678.7C704.2 679.7 706.2 681.1 708.7 683.3C711.2 685.5 714.0 689.0 716.7 692.0C719.4 695.0 722.0 698.2 724.7 701.3C727.4 704.4 730.0 707.8 732.7 710.7C735.4 713.6 738.0 716.4 740.7 718.7C743.4 721.0 746.0 723.3 748.7 724.7C751.4 726.1 754.0 726.6 756.7 727.3C759.4 728.0 762.5 728.5 764.7 729.1C766.9 729.7 767.5 729.6 770.0 731.0C772.5 732.4 776.3 734.6 779.5 737.6C782.7 740.6 785.8 745.2 789.0 749.0C792.2 752.8 795.4 757.3 798.6 760.5C801.8 763.7 804.9 765.9 808.1 768.1C811.3 770.3 814.4 771.7 817.6 773.8C820.8 775.9 823.9 778.1 827.1 780.5C830.3 782.9 833.5 785.4 836.7 788.1C839.9 790.8 843.4 794.0 846.2 796.7C849.1 799.4 851.3 802.2 853.8 804.3C856.3 806.3 858.5 808.2 861.4 809.0C864.3 809.8 867.8 809.1 871.0 809.0C874.2 808.9 877.6 808.0 880.5 808.5C883.4 809.0 885.6 810.2 888.1 811.9C890.6 813.6 893.2 816.2 895.7 818.6C898.2 821.0 900.8 824.0 903.3 826.2C905.8 828.4 908.1 830.6 911.0 831.9C913.9 833.2 917.0 833.6 920.5 833.8C924.0 834.0 928.1 833.0 931.9 832.9C935.7 832.8 940.1 833.1 943.3 832.9C946.5 832.7 948.8 832.5 951.0 831.9C953.2 831.2 955.8 829.5 956.7 829.0" fill="none" stroke="#0a0a0a" stroke-width="1.6" stroke-linejoin="round" stroke-linecap="butt" stroke-dasharray="8 3.8"/>
<path d="M59.5 736.0C62.6 736.0 72.3 735.4 77.9 735.7C83.5 736.0 88.5 737.4 93.1 738.0C97.7 738.6 100.2 739.5 105.3 739.5C110.4 739.5 116.8 738.5 123.6 738.0C130.4 737.5 138.8 736.5 146.4 736.5C154.0 736.5 162.2 737.1 169.3 738.0C176.4 738.9 182.8 741.4 189.1 741.8C195.4 742.2 203.1 740.4 207.4 740.3C211.8 740.2 211.3 741.2 215.2 741.0C219.0 740.8 225.4 739.7 230.5 738.8C235.6 737.9 240.6 736.2 245.7 735.7C250.8 735.2 256.7 735.2 261.0 735.7C265.3 736.2 267.8 737.5 271.6 738.8C275.4 740.1 279.2 741.6 283.8 743.3C288.4 744.9 294.2 747.4 299.0 748.7C303.8 750.0 308.5 751.4 312.8 751.0C317.1 750.6 320.9 748.1 325.0 746.4C329.1 744.7 333.1 742.4 337.1 741.0C341.2 739.6 345.6 738.4 349.3 738.0C353.0 737.6 355.9 737.9 359.1 738.5C362.3 739.1 365.2 740.3 368.3 741.8C371.4 743.3 374.9 746.6 377.4 747.6C379.9 748.6 381.2 748.6 383.5 747.9C385.8 747.2 388.6 745.3 391.1 743.3C393.7 741.3 396.2 737.7 398.8 735.7C401.4 733.7 403.6 732.2 406.4 731.1C409.2 730.0 412.4 729.4 415.5 729.3C418.6 729.2 421.6 729.6 424.7 730.4C427.8 731.2 430.8 732.7 433.8 734.2C436.9 735.7 439.9 737.5 443.0 739.5C446.1 741.5 449.1 744.0 452.1 746.4C455.1 748.8 458.1 751.5 461.2 754.0C464.2 756.5 467.3 759.3 470.4 761.6C473.4 763.9 476.7 766.3 479.5 767.7C482.3 769.1 484.6 769.6 487.1 770.0C489.7 770.4 492.2 770.2 494.8 770.0C497.4 769.8 499.6 769.1 502.4 768.5C505.2 767.9 508.0 767.4 511.4 766.2C514.8 765.0 519.1 763.1 522.9 761.4C526.7 759.6 530.5 757.1 534.3 755.7C538.1 754.3 541.9 753.7 545.7 752.9C549.5 752.1 553.3 752.0 557.1 751.0C560.9 750.0 564.8 749.0 568.6 747.1C572.4 745.2 576.2 743.0 580.0 739.5C583.8 736.0 587.6 730.6 591.4 726.2C595.2 721.8 599.1 717.0 602.9 712.9C606.7 708.8 610.5 704.7 614.3 701.4C618.1 698.1 621.9 695.1 625.7 692.9C629.5 690.7 633.3 689.3 637.1 688.1C640.9 686.9 644.8 686.2 648.6 685.8C652.4 685.4 656.2 685.6 660.0 685.8C663.8 686.0 667.6 686.6 671.4 687.1C675.2 687.6 679.8 688.3 682.9 689.0C686.0 689.7 687.5 690.3 690.0 691.3C692.5 692.2 695.3 692.6 698.0 694.7C700.7 696.8 703.3 700.8 706.0 704.0C708.7 707.2 711.3 711.3 714.0 714.0C716.7 716.7 719.3 718.1 722.0 720.0C724.7 721.9 727.3 723.5 730.0 725.3C732.7 727.1 735.3 728.8 738.0 730.7C740.7 732.6 743.3 734.3 746.0 736.7C748.7 739.1 751.3 742.3 754.0 745.3C756.7 748.3 759.3 751.9 762.0 754.7C764.7 757.5 766.8 758.8 770.0 762.0C773.2 765.2 777.6 770.1 781.4 773.8C785.2 777.5 789.1 781.3 792.9 784.3C796.7 787.3 800.5 789.8 804.3 791.9C808.1 794.0 811.9 794.8 815.7 796.7C819.5 798.6 823.3 800.6 827.1 803.3C830.9 806.0 834.8 810.3 838.6 812.9C842.4 815.5 846.2 817.4 850.0 818.6C853.8 819.8 856.9 819.7 861.4 819.9C865.9 820.1 872.2 820.1 876.7 819.9C881.2 819.7 883.7 818.8 888.1 818.6C892.5 818.4 899.2 818.0 903.3 818.6C907.4 819.2 909.7 821.0 912.9 822.4C916.1 823.8 919.5 826.0 922.4 826.8C925.2 827.6 927.5 827.5 930.0 827.1C932.5 826.7 934.8 825.0 937.6 824.3C940.5 823.6 943.9 823.0 947.1 823.0C950.3 823.0 955.1 824.1 956.7 824.3" fill="none" stroke="#0a0a0a" stroke-width="3.4" stroke-linejoin="round" stroke-linecap="butt"/>
</g>
</svg></body></html>
